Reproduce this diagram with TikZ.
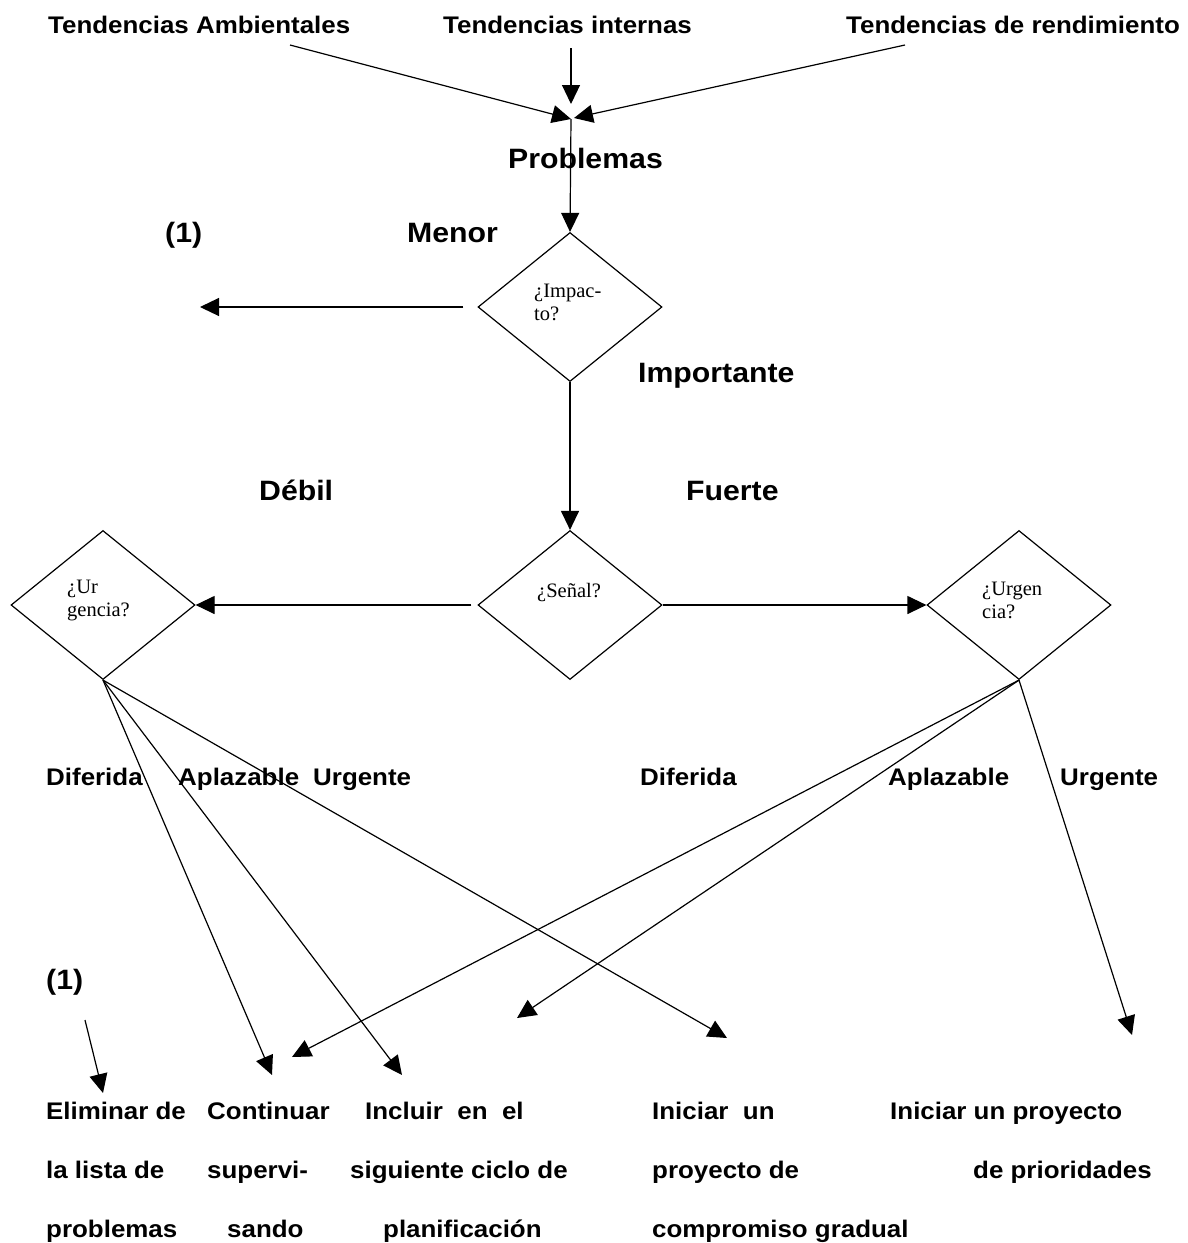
\documentclass[tikz,border=0pt]{standalone}
\usepackage{fontspec}
\newfontfamily\lab{Liberation Sans}[FakeStretch=1.08]
\newfontfamily\dia{Liberation Serif}
\usetikzlibrary{shapes.geometric,arrows.meta}
\begin{document}
\begin{tikzpicture}[x=1pt,y=-1pt,
  lbl/.style={inner sep=0pt,anchor=base west,font=\lab\bfseries\fontsize{24}{59}\selectfont},
  big/.style={inner sep=0pt,anchor=base west,font=\lab\bfseries\fontsize{28}{34}\selectfont},
  dtxt/.style={inner sep=0pt,anchor=base west,font=\dia\fontsize{20.5}{23}\selectfont},
  dec/.style={diamond,draw,line width=1.2pt,minimum width=184pt,minimum height=149pt,inner sep=0pt},
  arr/.style={line width=1.2pt,-{Triangle[length=19pt,width=18pt]}},
  ln/.style={line width=1.2pt}]
\fill[white] (0,0) rectangle (1187,1243);
\useasboundingbox (0,0) rectangle (1187,1243);

% top texts
\node[lbl] (tA) at (48,33) {Tendencias Ambientales};
\node[lbl] (tI) at (443,33) {Tendencias internas};
\node[lbl] (tR) at (846,33) {Tendencias de rendimiento};
\node[big] (prob) at (508,168) {Problemas};

% diamonds
\node[dec] (d1) at (570,307) {};
\node[dec] (d2) at (570,605) {};
\node[dec] (dL) at (103,605) {};
\node[dec] (dR) at (1019,605) {};

\node[dtxt] (t1) at (534,297) {\vtop{\hbox{¿Impac-}\hbox{to?}}};
\node[dtxt] (t2) at (537,597) {¿Señal?};
\node[dtxt] (tL) at (67,593) {\vtop{\hbox{¿Ur}\hbox{gencia?}}};
\node[dtxt] (tRr) at (982,595) {\vtop{\hbox{¿Urgen}\hbox{cia?}}};

% labels
\node[big] (one1) at (165,242) {(1)};
\node[big] (menor) at (407,242) {Menor};
\node[big] (imp) at (638,382) {Importante};
\node[big] (debil) at (259,500) {Débil};
\node[big] (fuerte) at (686,500) {Fuerte};

\node[lbl] (difL) at (46,785) {Diferida};
\node[lbl] (aplL) at (178,785) {Aplazable};
\node[lbl] (urgL) at (313,785) {Urgente};
\node[lbl] (difR) at (640,785) {Diferida};
\node[lbl] (aplR) at (888,785) {Aplazable};
\node[lbl] (urgR) at (1060,785) {Urgente};

\node[big] (one2) at (46,989) {(1)};

% bottom texts
\node[lbl] (b1) at (46,1119) {\vtop{\hbox{Eliminar de}\hbox{la lista de}\hbox{problemas}}};
\node[lbl] (b2) at (207,1119) {\vtop{\hbox{Continuar}\hbox{supervi-}\hbox{\hspace*{20pt}sando}}};
\node[lbl] (b3) at (350,1119) {\vtop{\hbox{\hspace*{15pt}Incluir~~en~~el}\hbox{siguiente ciclo de}\hbox{\hspace*{33pt}planificación}}};
\node[lbl] (b4) at (652,1119) {\vtop{\hbox{Iniciar~~un}\hbox{proyecto de}\hbox{compromiso gradual}}};
\node[lbl] (b5) at (890,1119) {\vtop{\hbox{Iniciar un proyecto}\hbox{\hspace*{83pt}de prioridades}}};

% coordinates
\coordinate (a1) at (290,45);
\coordinate (a2s) at (571,48);
\coordinate (a2e) at (571,104);
\coordinate (a3) at (905,45);
\coordinate (conv) at (571,119);
\coordinate (convR) at (574,118);
\coordinate (m1) at (200,307);
\coordinate (c1) at (272,1075);
\coordinate (c2) at (402,1075);
\coordinate (c3) at (727,1038);
\coordinate (c4) at (292,1057);
\coordinate (c5) at (517,1018);
\coordinate (c6) at (1132,1035);
\coordinate (o2s) at (85,1020);
\coordinate (o2e) at (103,1093);

% connectors
\draw[arr] (a1) -- (conv);
\draw[arr] (a2s) -- (a2e);
\draw[arr] (a3) -- (convR);
\draw[arr] (conv) -- (d1.north);
\draw[arr] ([xshift=-14pt]d1.west) -- (m1);
\draw[arr] (d1.south) -- (d2.north);
\draw[arr] ([xshift=-6pt]d2.west) -- (dL.east);
\draw[arr] (d2.east) -- (dR.west);
\draw[arr] (dL.south) -- (c1);
\draw[arr] (dL.south) -- (c2);
\draw[arr] (dL.south) -- (c3);
\draw[arr] (dR.south) -- (c4);
\draw[arr] (dR.south) -- (c5);
\draw[arr] (dR.south) -- (c6);
\draw[arr] (o2s) -- (o2e);
\end{tikzpicture}
\end{document}
